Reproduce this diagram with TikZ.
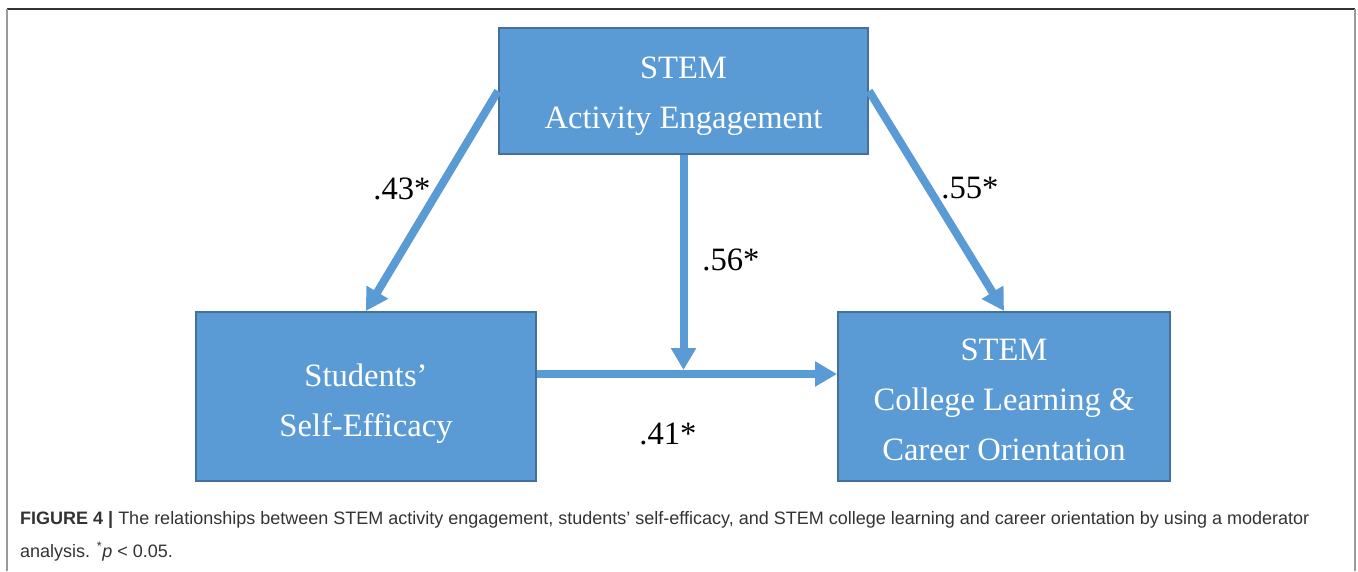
\documentclass[tikz,border=0pt]{standalone}
\usepackage{fontspec}
\setmainfont{Liberation Serif}
\newfontfamily\capfont{Liberation Sans}
\usetikzlibrary{arrows.meta,calc}
\definecolor{boxfill}{HTML}{5B9BD5}
\definecolor{boxedge}{HTML}{41719C}
\definecolor{frameline}{HTML}{333333}
\definecolor{sideline}{HTML}{9A9A9A}
\definecolor{captext}{HTML}{333333}

\begin{document}
\begin{tikzpicture}[x=1pt,y=-1pt,
  varbox/.style={draw=boxedge, line width=2pt, fill=boxfill, inner sep=0pt},
  boxtext/.style={text=white, align=center, inner sep=0pt,
    font=\fontsize{32.6}{50}\selectfont},
  weight/.style={anchor=base, inner sep=0pt, font=\fontsize{32.6}{40}\selectfont},
  link/.style={draw=boxfill, line width=8pt, -{Triangle[length=22pt,width=24pt]}},
  capline/.style={anchor=base west, inner sep=0pt, text=captext,
    font=\capfont\fontsize{18}{22}\selectfont}]

\useasboundingbox (0,0) rectangle (1358,571);

% figure frame: top rule and the two side rules
\draw[frameline, line width=1.5pt] (7,9) -- (1355,9);
\draw[sideline, line width=2pt] (7,9) -- (7,571);
\draw[sideline, line width=2pt] (1355,9) -- (1355,571);

% variables
\node[varbox, minimum width=369pt, minimum height=126pt] (act) at (683.5,91) {};
\node[varbox, minimum width=340pt, minimum height=169pt] (eff) at (366,396.5) {};
\node[varbox, minimum width=332pt, minimum height=169pt] (col) at (1004,396.5) {};

\node[boxtext] (actlabel) at ($(act.center)+(0,5.5)$) {STEM\\Activity Engagement};
\node[boxtext] (efflabel) at ($(eff.center)+(0,7)$) {Students’\\Self-Efficacy};
\node[boxtext] (collabel) at ($(col.center)+(0,3)$) {STEM\\College Learning \&\\Career Orientation};

% paths
\path (act.south) ++(0,219) coordinate (join);
\draw[link] (act.west) -- (eff.north);
\draw[link] (act.east) -- (col.north);
\draw[link, shorten >=4pt] (act.south) -- (join);
\draw[link] (eff.east |- join) -- (col.west |- join);

% coefficients
\node[weight] (w1) at (402,199) {.43*};
\node[weight] (w2) at (970,198) {.55*};
\node[weight] (w3) at (731,270) {.56*};
\node[weight] (w4) at (668,444) {.41*};

% caption
\node[capline] (cap1) at (20,524) {\textbf{FIGURE 4 |} The relationships between STEM activity engagement, students’ self-efficacy, and STEM college learning and career orientation by using a moderator};
\node[capline] (cap2) at (20,557) {analysis. \textsuperscript{*}\textit{p} < 0.05.};
\end{tikzpicture}
\end{document}
